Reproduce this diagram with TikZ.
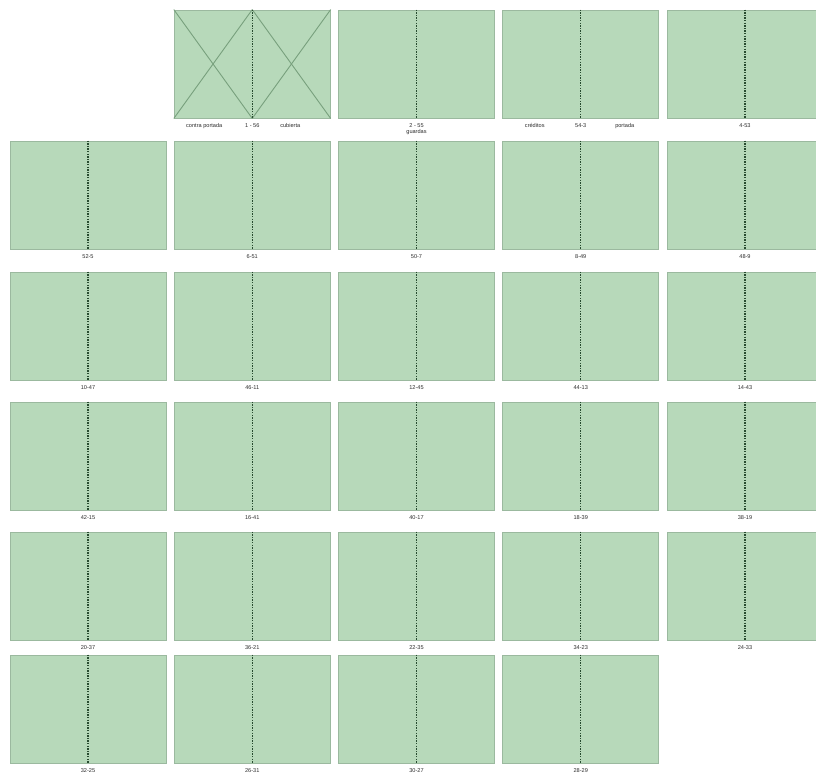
\documentclass[tikz,border=0pt]{standalone}
\usepackage{fontspec}
\setmainfont{Liberation Sans}
\definecolor{boxfill}{RGB}{183,217,186}
\definecolor{boxline}{RGB}{155,185,159}
\definecolor{spinecol}{RGB}{40,75,48}
\definecolor{crosscol}{RGB}{120,160,125}
\definecolor{labtext}{RGB}{45,45,45}
\begin{document}
\begin{tikzpicture}[x=1pt,y=-1pt,
  box/.style={draw=boxline,fill=boxfill,line width=0.8pt,minimum width=156pt,minimum height=108pt,inner sep=0pt},
  spine/.style={draw=spinecol,line width=1.3pt,dash pattern=on 1.4pt off 1.2pt},
  cross/.style={draw=crosscol,line width=0.9pt},
  lab/.style={font=\fontsize{5.6}{6.2}\selectfont,text=labtext,inner sep=0pt,align=center,anchor=north}]
\useasboundingbox (0,0) rectangle (816,774);
\clip (0,0) rectangle (816,774);
\fill[white] (0,0) rectangle (816,774);
\foreach \n/\c/\r/\t in {
  1/2/1/{1 - 56}, 2/3/1/{2 - 55\\guardas}, 3/4/1/{54-3}, 4/5/1/{4-53},
  5/1/2/{52-5}, 6/2/2/{6-51}, 7/3/2/{50-7}, 8/4/2/{8-49}, 9/5/2/{48-9},
  10/1/3/{10-47}, 11/2/3/{46-11}, 12/3/3/{12-45}, 13/4/3/{44-13}, 14/5/3/{14-43},
  15/1/4/{42-15}, 16/2/4/{16-41}, 17/3/4/{40-17}, 18/4/4/{18-39}, 19/5/4/{38-19},
  20/1/5/{20-37}, 21/2/5/{36-21}, 22/3/5/{22-35}, 23/4/5/{34-23}, 24/5/5/{24-33},
  25/1/6/{32-25}, 26/2/6/{26-31}, 27/3/6/{30-27}, 28/4/6/{28-29}}
{
  \pgfmathsetmacro{\xx}{88+164.25*(\c-1)}
  \pgfmathsetmacro{\yy}{{64,64,195,326,456,586,709}[\r]}
  \node[box] (b\n) at (\xx,\yy) {};
  \draw[spine] (b\n.north) -- (b\n.south);
  \node[lab] (l\n) at ([yshift=-5pt]b\n.south) {\t};
}
% cover crosses
\draw[cross] (b1.north west) -- (b1.south);
\draw[cross] (b1.south west) -- (b1.north);
\draw[cross] (b1.north) -- (b1.south east);
\draw[cross] (b1.south) -- (b1.north east);
\draw[spine] (b1.north) -- (b1.south);
% side labels
\node[lab] (c1l) at ([xshift=-48pt,yshift=-5pt]b1.south) {contra portada};
\node[lab] (c1r) at ([xshift=38pt,yshift=-5pt]b1.south) {cubierta};
\node[lab] (c3l) at ([xshift=-46pt,yshift=-5pt]b3.south) {créditos};
\node[lab] (c3r) at ([xshift=44pt,yshift=-5pt]b3.south) {portada};
\end{tikzpicture}
\end{document}
